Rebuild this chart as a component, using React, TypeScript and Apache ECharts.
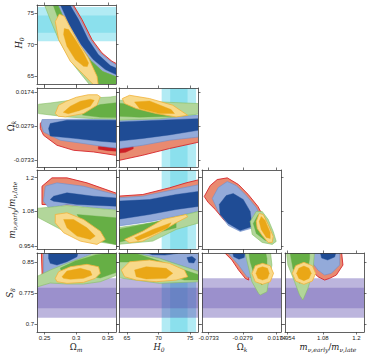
import React, { useEffect, useRef } from "react";
import * as echarts from "echarts";

type Pt = [number, number];
type Layer = "redOuter" | "redInner" | "blueOuter" | "blueInner" | "greenOuter" | "greenInner" | "yellowOuter" | "yellowInner";
type Contour = [Layer, Pt[]];

// ---------- axis parameters ----------
const omRange = [0.238, 0.363];
const h0Range = [63.75, 76.25];
const okRange = [-0.0823, 0.0231];
const mrRange = [0.945, 1.227];
const s8Range = [0.6815, 0.871];

const omTicks = [0.25, 0.3, 0.35];
const omLabels = ["0.25", "0.3", "0.35"];
const h0Ticks = [65, 70, 75];
const h0Labels = ["65", "70", "75"];
const okTicks = [-0.0733, -0.0279, 0.0174];
const okLabels = ["-0.0733", "-0.0279", "0.0174"];
const mrTicks = [0.954, 1.08, 1.2];
const mrLabels = ["0.954", "1.08", "1.2"];
const s8Ticks = [0.7, 0.775, 0.85];
const s8Labels = ["0.7", "0.775", "0.85"];

// external priors: [2σ low, 1σ low, 1σ high, 2σ high]
const h0Band = [70.5, 71.85, 74.6, 75.95];
const s8Band = [0.7158, 0.7383, 0.7877, 0.8102];

// ---------- contours ----------
const cH0Om: Contour[] = [
  ["redOuter", [[0.2934, 76.63], [0.3092, 73.94], [0.325, 70.78], [0.3408, 68.67], [0.3566, 67.34], [0.3666, 66.82], [0.3666, 64.75], [0.342, 65.71], [0.323, 67.45], [0.304, 69.98], [0.285, 73.15], [0.269, 76.63]]],
  ["blueOuter", [[0.291, 76.63], [0.3068, 73.94], [0.3226, 70.78], [0.3384, 68.67], [0.3542, 67.34], [0.3666, 66.6], [0.3666, 64.75], [0.342, 65.71], [0.323, 67.45], [0.304, 69.98], [0.285, 73.15], [0.269, 76.63]]],
  ["blueInner", [[0.288, 76.63], [0.3038, 73.94], [0.3191, 70.78], [0.335, 68.4], [0.354, 66.66], [0.3666, 66.11], [0.3666, 65.08], [0.346, 66.03], [0.327, 67.61], [0.308, 69.98], [0.289, 73.15], [0.2735, 76.63]]],
  ["greenOuter", [[0.2484, 76.63], [0.259, 73.94], [0.2722, 70.78], [0.2934, 67.09], [0.3223, 63.5], [0.3666, 63.5], [0.3666, 64.75], [0.342, 65.71], [0.323, 67.45], [0.304, 69.98], [0.285, 73.15], [0.269, 76.63]]],
  ["greenInner", [[0.2622, 76.63], [0.2748, 73.15], [0.2938, 69.19], [0.316, 66.03], [0.335, 63.5], [0.3666, 63.5], [0.3666, 64.75], [0.342, 65.71], [0.323, 67.45], [0.304, 69.98], [0.285, 73.15], [0.269, 76.63]]],
  ["yellowOuter", [[0.2733, 74.81], [0.2815, 74.46], [0.291, 72.63], [0.304, 70.25], [0.3195, 67.88], [0.333, 64.97], [0.335, 63.5], [0.3286, 63.5], [0.3117, 65.24], [0.2907, 67.34], [0.2722, 70.78], [0.2669, 73.62]]],
  ["yellowInner", [[0.2812, 72.52], [0.288, 72.36], [0.2986, 70.78], [0.3117, 68.67], [0.3196, 67.09], [0.3176, 66.5], [0.3117, 66.55], [0.2986, 67.61], [0.2854, 69.72], [0.2801, 71.57]]],
];

const cOkOm: Contour[] = [
  ["redOuter", [[0.2432, -0.024], [0.2484, -0.02], [0.37, -0.02], [0.37, -0.0666], [0.3619, -0.0666], [0.3275, -0.0622], [0.2959, -0.06], [0.2696, -0.0533], [0.2484, -0.04], [0.2432, -0.031]]],
  ["redInner", [[0.335, -0.055], [0.37, -0.055], [0.37, -0.0615], [0.35, -0.0605], [0.335, -0.0585]]],
  ["blueOuter", [[0.2445, -0.025], [0.2459, -0.019], [0.37, -0.0177], [0.37, -0.0577], [0.3487, -0.0556], [0.3117, -0.051], [0.2748, -0.0466], [0.2484, -0.0356]]],
  ["blueInner", [[0.2563, -0.031], [0.259, -0.0243], [0.2854, -0.0199], [0.37, -0.0199], [0.37, -0.05], [0.3381, -0.048], [0.2959, -0.044], [0.259, -0.041]]],
  ["greenOuter", [[0.2405, 0.0014], [0.259, 0.0031], [0.3117, 0.009], [0.354, 0.0111], [0.37, 0.013], [0.37, -0.0185], [0.3275, -0.0177], [0.2854, -0.0155], [0.2405, -0.011]]],
  ["greenInner", [[0.3117, -0.0066], [0.3381, 0.001], [0.37, 0.004], [0.37, -0.0165], [0.3381, -0.016], [0.31, -0.013]]],
  ["yellowOuter", [[0.2669, -0.011], [0.2722, 0.0001], [0.2843, 0.0054], [0.3002, 0.0107], [0.3191, 0.0141], [0.3334, 0.0141], [0.3381, 0.0114], [0.3329, 0.0001], [0.3117, -0.011], [0.2828, -0.0155], [0.2717, -0.0146]]],
  ["yellowInner", [[0.2796, -0.0093], [0.2907, -0.0013], [0.3065, 0.0054], [0.3223, 0.0081], [0.3286, 0.0067], [0.3223, -0.0013], [0.3065, -0.0066], [0.2875, -0.0113]]],
];

const cOkH0: Contour[] = [
  ["redOuter", [[63.5, -0.02], [76.5, -0.02], [76.5, -0.0489], [71.73, -0.0577], [67.52, -0.0666], [63.85, -0.0733], [63.5, -0.074]]],
  ["redInner", [[63.5, -0.052], [66, -0.052], [66, -0.058], [64.8, -0.0626], [63.5, -0.064]]],
  ["blueOuter", [[63.5, -0.019], [76.5, -0.0133], [76.5, -0.0422], [71.73, -0.0466], [67.52, -0.0533], [63.85, -0.0577], [63.5, -0.058]]],
  ["blueInner", [[63.5, -0.0222], [70.16, -0.0199], [76.5, -0.0177], [76.5, -0.033], [71.73, -0.0395], [67.52, -0.0442], [63.5, -0.048]]],
  ["greenOuter", [[63.5, 0.007], [70.16, 0.0045], [76.5, 0.0023], [76.5, -0.0115], [70.16, -0.018], [63.5, -0.0199]]],
  ["greenInner", [[63.5, 0.003], [68.58, -0.0013], [73.31, -0.0066], [72.52, -0.0146], [67.0, -0.0159], [63.5, -0.0146]]],
  ["yellowOuter", [[64.27, 0.009], [65.43, 0.0134], [68.58, 0.009], [72.26, 0.0001], [74.62, -0.0133], [72.79, -0.0155], [69.64, -0.011], [66.48, -0.0043], [64.64, 0.0023]]],
  ["yellowInner", [[66.21, 0.0045], [68.58, 0.0058], [72.0, -0.0057], [72.52, -0.011], [70.16, -0.011], [67.0, -0.0043]]],
];

const cMrOm: Contour[] = [
  ["redOuter", [[0.2459, 1.1038], [0.2459, 1.169], [0.2617, 1.1989], [0.2854, 1.1989], [0.3171, 1.1811], [0.3619, 1.1455], [0.37, 1.143], [0.37, 1.1]]],
  ["blueOuter", [[0.2484, 1.1156], [0.2511, 1.169], [0.2696, 1.1811], [0.3117, 1.169], [0.3619, 1.1395], [0.37, 1.137], [0.37, 1.086], [0.3619, 1.086], [0.3275, 1.0921], [0.2854, 1.1038], [0.2563, 1.0921]]],
  ["blueInner", [[0.259, 1.1217], [0.2642, 1.1334], [0.2854, 1.1455], [0.3275, 1.1334], [0.37, 1.126], [0.37, 1.0978], [0.3619, 1.0978], [0.3013, 1.1038], [0.2642, 1.1156]]],
  ["greenOuter", [[0.238, 1.09], [0.2854, 1.1], [0.3619, 1.084], [0.37, 1.082], [0.37, 0.955], [0.3619, 0.9614], [0.3275, 0.9732], [0.2854, 1.0031], [0.2405, 1.0565], [0.238, 1.06]]],
  ["greenInner", [[0.3013, 1.0682], [0.3619, 1.0565], [0.37, 1.055], [0.37, 0.96], [0.3619, 0.9614], [0.3275, 0.9792]]],
  ["yellowOuter", [[0.2669, 1.0682], [0.2854, 1.0743], [0.3117, 1.0504], [0.3381, 1.0088], [0.346, 0.9792], [0.3329, 0.9614], [0.3065, 0.9732], [0.2801, 1.0031], [0.2669, 1.0387]]],
  ["yellowInner", [[0.2801, 1.0504], [0.2959, 1.0504], [0.3171, 1.0209], [0.3302, 0.991], [0.3223, 0.9792], [0.3013, 0.991], [0.2854, 1.0209]]],
];

const cMrH0: Contour[] = [
  ["redOuter", [[63.5, 1.1334], [67.52, 1.1395], [71.73, 1.1633], [74.37, 1.1811], [76.5, 1.1929], [76.5, 1.1], [63.5, 1.08]]],
  ["blueOuter", [[63.5, 1.1277], [67.52, 1.1334], [71.73, 1.1537], [76.5, 1.1751], [76.5, 1.08], [69.1, 1.0444], [63.5, 1.0266]]],
  ["blueInner", [[63.5, 1.1156], [68.58, 1.1217], [72.79, 1.1395], [76.5, 1.1512], [76.5, 1.0978], [72.79, 1.086], [68.58, 1.0682], [63.5, 1.0504]]],
  ["greenOuter", [[63.5, 1.0209], [69.1, 1.0387], [76.5, 1.08], [76.5, 1.0387], [72.79, 1.0148], [69.1, 0.9732], [63.5, 0.9614]]],
  ["greenInner", [[63.5, 1.0148], [72.79, 1.0565], [72.79, 1.0209], [63.5, 0.9675]]],
  ["yellowOuter", [[64.64, 0.9792], [67.52, 1.0088], [70.68, 1.0504], [74.37, 1.0682], [74.6, 1.06], [72.79, 1.0387], [70.16, 1.0031], [67.52, 0.9732], [65.43, 0.9675]]],
  ["yellowInner", [[66.21, 0.9853], [69.1, 1.0148], [72.0, 1.0387], [71.47, 1.0209], [68.58, 0.991], [66.74, 0.9757]]],
];

const cMrOk: Contour[] = [
  ["redOuter", [[-0.0793, 1.1324], [-0.0713, 1.1715], [-0.062, 1.1929], [-0.0486, 1.1989], [-0.0336, 1.1751], [-0.0206, 1.1395], [-0.0076, 1.0967], [-0.002, 1.0682], [-0.0113, 1.0326], [-0.0313, 1.0219], [-0.0513, 1.0433], [-0.0646, 1.086], [-0.074, 1.111]]],
  ["blueOuter", [[-0.0686, 1.1253], [-0.0606, 1.1644], [-0.0486, 1.1858], [-0.0366, 1.1715], [-0.0233, 1.1359], [-0.0099, 1.0932], [-0.0046, 1.0647], [-0.0126, 1.0219], [-0.0313, 1.0077], [-0.0473, 1.0291], [-0.0606, 1.0789]]],
  ["blueInner", [[-0.0593, 1.1038], [-0.05, 1.1359], [-0.0406, 1.143], [-0.0273, 1.1217], [-0.018, 1.0789], [-0.0153, 1.0255], [-0.0313, 1.0112], [-0.0473, 1.0362], [-0.058, 1.0682]]],
  ["greenOuter", [[-0.018, 1.0433], [-0.0099, 1.0789], [-0.002, 1.0789], [0.006, 1.0504], [0.0127, 1.0077], [0.0167, 0.9721], [0.0114, 0.9614], [-0.002, 0.9685], [-0.0153, 0.997]]],
  ["greenInner", [[-0.0139, 1.0362], [-0.0073, 1.0682], [0.0007, 1.0611], [0.0087, 1.0148], [0.0114, 0.9792], [0.002, 0.9757], [-0.0099, 1.0006]]],
  ["yellowOuter", [[-0.0099, 1.0433], [-0.006, 1.0718], [-0.0006, 1.0682], [0.006, 1.0326], [0.0127, 0.9899], [0.0114, 0.9685], [0.006, 0.9685], [-0.002, 0.9934], [-0.0086, 1.0184]]],
  ["yellowInner", [[-0.006, 1.0433], [-0.0033, 1.0611], [0.002, 1.0469], [0.0087, 1.0041], [0.0087, 0.9828], [0.0034, 0.9863], [-0.0033, 1.0148]]],
];

const cS8Om: Contour[] = [
  ["redOuter", [[0.2448, 0.878], [0.2748, 0.878], [0.2559, 0.8109], [0.2464, 0.8061]]],
  ["blueOuter", [[0.2484, 0.878], [0.3381, 0.878], [0.2484, 0.8181]]],
  ["blueInner", [[0.2563, 0.878], [0.3038, 0.878], [0.3013, 0.862], [0.2854, 0.85], [0.2696, 0.8421], [0.259, 0.8462], [0.2563, 0.8581]]],
  ["greenOuter", [[0.2369, 0.8141], [0.259, 0.8301], [0.2854, 0.8462], [0.3223, 0.8661], [0.3619, 0.878], [0.365, 0.878], [0.365, 0.8181], [0.3381, 0.8021], [0.3117, 0.7966], [0.2854, 0.7966], [0.259, 0.799], [0.2369, 0.789]]],
  ["greenInner", [[0.2748, 0.8349], [0.2986, 0.8517], [0.3302, 0.8661], [0.365, 0.874], [0.365, 0.8253], [0.3381, 0.8109], [0.3065, 0.8181], [0.278, 0.8205]]],
  ["yellowOuter", [[0.2669, 0.8102], [0.2722, 0.826], [0.2907, 0.838], [0.3171, 0.8438], [0.3354, 0.838], [0.3381, 0.8222], [0.3302, 0.8102], [0.3117, 0.8006], [0.2854, 0.7982], [0.2696, 0.8021]]],
  ["yellowInner", [[0.2775, 0.8141], [0.2854, 0.8277], [0.3065, 0.8342], [0.3223, 0.8277], [0.325, 0.8181], [0.3117, 0.8102], [0.2907, 0.8078], [0.2801, 0.8102]]],
];

const cS8H0: Contour[] = [
  ["redOuter", [[75.5, 0.842], [76.5, 0.845], [76.5, 0.82], [75.7, 0.825]]],
  ["blueOuter", [[63.5, 0.878], [76.5, 0.878], [76.5, 0.826], [70.16, 0.8581], [66.48, 0.8701], [63.5, 0.874]]],
  ["blueInner", [[67.9, 0.878], [73.5, 0.878], [73.0, 0.87], [71.0, 0.866], [69.0, 0.867], [68.0, 0.872]]],
  ["blueInner", [[74.5, 0.86], [75.3, 0.8625], [75.9, 0.856], [75.6, 0.847], [74.8, 0.848]]],
  ["greenOuter", [[63.5, 0.874], [66.48, 0.8701], [70.16, 0.8581], [76.5, 0.826], [76.5, 0.8021], [70.16, 0.7982], [64.37, 0.8102], [63.5, 0.8141]]],
  ["greenInner", [[63.5, 0.8732], [66.21, 0.8708], [70.16, 0.8517], [74.1, 0.8301], [76.5, 0.8181], [76.5, 0.8061], [74.1, 0.8061], [70.16, 0.8253], [66.21, 0.8493], [63.5, 0.8493]]],
  ["yellowOuter", [[64.12, 0.8301], [65.43, 0.85], [68.58, 0.8541], [71.73, 0.8462], [74.1, 0.8301], [74.62, 0.8141], [72.79, 0.8061], [69.64, 0.8021], [66.48, 0.8061], [64.64, 0.8141]]],
  ["yellowInner", [[66.21, 0.8301], [68.06, 0.838], [71.21, 0.8342], [72.26, 0.8222], [71.21, 0.8102], [68.06, 0.8085], [66.48, 0.8141]]],
];

const cS8Ok: Contour[] = [
  ["redOuter", [[-0.0553, 0.878], [-0.02, 0.878], [-0.02, 0.8061], [-0.0246, 0.8102], [-0.0335, 0.8301], [-0.0424, 0.8541], [-0.0513, 0.8701]]],
  ["blueOuter", [[-0.05, 0.878], [-0.015, 0.878], [-0.015, 0.81], [-0.0223, 0.8141], [-0.0335, 0.8421], [-0.0469, 0.8701]]],
  ["blueInner", [[-0.0424, 0.878], [-0.0246, 0.878], [-0.026, 0.86], [-0.033, 0.856], [-0.04, 0.862]]],
  ["greenOuter", [[-0.0246, 0.878], [0.0087, 0.878], [0.011, 0.8421], [0.0065, 0.8021], [0.0043, 0.7781], [-0.0046, 0.7702], [-0.0069, 0.7743], [-0.0157, 0.8021], [-0.0246, 0.8701]]],
  ["greenInner", [[-0.0202, 0.878], [0.002, 0.878], [0.0043, 0.8581], [0.0043, 0.8102], [-0.0023, 0.7942], [-0.0113, 0.8102], [-0.018, 0.85]]],
  ["yellowOuter", [[-0.0157, 0.8222], [-0.0113, 0.8405], [-0.0015, 0.8462], [0.0087, 0.8405], [0.0131, 0.8222], [0.0087, 0.8021], [-0.0015, 0.7958], [-0.0113, 0.8021]]],
  ["yellowInner", [[-0.0103, 0.8222], [-0.0077, 0.8342], [-0.0015, 0.838], [0.0051, 0.8342], [0.0074, 0.8222], [0.0051, 0.8102], [-0.0015, 0.8061], [-0.0077, 0.8102]]],
];

const cS8Mr: Contour[] = [
  ["redOuter", [[1.02, 0.878], [1.1461, 0.878], [1.1518, 0.8421], [1.1282, 0.8181], [1.1043, 0.8102], [1.0864, 0.8061], [1.0625, 0.8141], [1.04, 0.83]]],
  ["blueOuter", [[1.0268, 0.878], [1.14, 0.878], [1.14, 0.8421], [1.1104, 0.8222], [1.0864, 0.8181], [1.0625, 0.8301], [1.04, 0.85]]],
  ["blueInner", [[1.0686, 0.878], [1.1293, 0.878], [1.1221, 0.8613], [1.0971, 0.8541], [1.0757, 0.8589]]],
  ["greenOuter", [[0.9496, 0.878], [1.0507, 0.878], [1.0446, 0.826], [1.0268, 0.7863], [1.0089, 0.7582], [0.9971, 0.7702], [0.9793, 0.8021], [0.9554, 0.8421]]],
  ["greenInner", [[0.9614, 0.878], [1.0329, 0.878], [1.0329, 0.8581], [1.0211, 0.8102], [0.9971, 0.7982], [0.9732, 0.8342]]],
  ["yellowOuter", [[0.9711, 0.8222], [0.9829, 0.8405], [1.0125, 0.8486], [1.0425, 0.8405], [1.0543, 0.8222], [1.0425, 0.8037], [1.0125, 0.7958], [0.9829, 0.8037]]],
  ["yellowInner", [[0.9864, 0.8222], [0.9943, 0.8344], [1.0125, 0.8397], [1.0307, 0.8344], [1.0386, 0.8222], [1.0307, 0.81], [1.0125, 0.8047], [0.9943, 0.81]]],
];

// ---------- styles ----------
const LAYER_STYLE: Record<Layer, { fill: string; stroke: string; lw: number }> = {
  redOuter: { fill: "#E98A70", stroke: "#D7262B", lw: 0.9 },
  redInner: { fill: "#CC1F26", stroke: "#CC1F26", lw: 0.4 },
  blueOuter: { fill: "#93AAD9", stroke: "#6F8FCB", lw: 0.6 },
  blueInner: { fill: "#1F4C95", stroke: "#1F4C95", lw: 0.4 },
  greenOuter: { fill: "#B2D69A", stroke: "#86C064", lw: 0.6 },
  greenInner: { fill: "#66AF45", stroke: "#66AF45", lw: 0.4 },
  yellowOuter: { fill: "#F8D98A", stroke: "#F2B33A", lw: 0.8 },
  yellowInner: { fill: "#EAA716", stroke: "#EAA716", lw: 0.4 },
};

const CYAN_OUT = "rgba(0,190,220,0.30)";
const CYAN_IN = "rgba(0,185,215,0.22)";
const PURP_OUT = "rgba(80,60,165,0.38)";
const PURP_IN = "rgba(80,60,165,0.30)";

const COL_LEFT = [37, 119, 202, 285];
const ROW_TOP = [5, 88, 170, 253];
const SIZE = 79;

type AxisKey = "om" | "h0" | "ok" | "mr" | "s8";
const AX: Record<AxisKey, { range: number[]; ticks: number[]; labels: string[] }> = {
  om: { range: omRange, ticks: omTicks, labels: omLabels },
  h0: { range: h0Range, ticks: h0Ticks, labels: h0Labels },
  ok: { range: okRange, ticks: okTicks, labels: okLabels },
  mr: { range: mrRange, ticks: mrTicks, labels: mrLabels },
  s8: { range: s8Range, ticks: s8Ticks, labels: s8Labels },
};

const COL_KEYS: AxisKey[] = ["om", "h0", "ok", "mr"];
const ROW_KEYS: AxisKey[] = ["h0", "ok", "mr", "s8"];
const PANEL_CONTOURS: Contour[][][] = [
  [cH0Om],
  [cOkOm, cOkH0],
  [cMrOm, cMrH0, cMrOk],
  [cS8Om, cS8H0, cS8Ok, cS8Mr],
];

function labelFor(key: AxisKey, v: number) {
  const a = AX[key];
  let best = 0;
  for (let i = 1; i < a.ticks.length; i++) if (Math.abs(a.ticks[i] - v) < Math.abs(a.ticks[best] - v)) best = i;
  return a.labels[best];
}

function buildOption() {
  const grid: any[] = [];
  const xAxis: any[] = [];
  const yAxis: any[] = [];
  const series: any[] = [];
  const lineStyle = { color: "#3a3a3a", width: 0.8 };
  const base = (key: AxisKey) => ({
    type: "value",
    min: AX[key].range[0],
    max: AX[key].range[1],
    splitLine: { show: false },
    axisLine: { show: true, onZero: false, lineStyle },
    axisTick: { show: true, length: 2.5, customValues: AX[key].ticks, lineStyle: { color: "#3a3a3a", width: 0.7 } },
    z: 10,
  });
  const lbl = (key: AxisKey, show: boolean) => ({
    show,
    customValues: AX[key].ticks,
    formatter: (v: number) => labelFor(key, v),
    fontSize: 6,
    fontFamily: "Liberation Sans",
    color: "#222",
    margin: 3,
  });
  let g = 0;
  for (let r = 0; r < 4; r++) {
    for (let c = 0; c <= r; c++) {
      const xk = COL_KEYS[c];
      const yk = ROW_KEYS[r];
      grid.push({ left: COL_LEFT[c], top: ROW_TOP[r], width: SIZE, height: SIZE });
      xAxis.push({ ...base(xk), gridIndex: g, position: "bottom", axisLabel: lbl(xk, r === 3) });
      xAxis.push({ ...base(xk), gridIndex: g, position: "top", axisLabel: { show: false } });
      yAxis.push({ ...base(yk), gridIndex: g, position: "left", axisLabel: lbl(yk, c === 0) });
      yAxis.push({ ...base(yk), gridIndex: g, position: "right", axisLabel: { show: false } });

      const xr = AX[xk].range;
      const yr = AX[yk].range;
      const bands: [string, number, number, string][] = [];
      if (r === 0) {
        bands.push(["y", h0Band[0], h0Band[3], CYAN_OUT]);
        bands.push(["y", h0Band[1], h0Band[2], CYAN_IN]);
      }
      if (c === 1) {
        bands.push(["x", h0Band[0], h0Band[3], CYAN_OUT]);
        bands.push(["x", h0Band[1], h0Band[2], CYAN_IN]);
      }
      if (r === 3) {
        bands.push(["y", s8Band[0], s8Band[3], PURP_OUT]);
        bands.push(["y", s8Band[1], s8Band[2], PURP_IN]);
      }
      if (bands.length) {
        series.push({
          type: "custom",
          xAxisIndex: 2 * g,
          yAxisIndex: 2 * g,
          clip: true,
          silent: true,
          z: 1,
          data: bands.map(() => [xr[0], yr[0]]),
          renderItem: (params: any, api: any) => {
            const [ax, lo, hi, col] = bands[params.dataIndex];
            const pts =
              ax === "y"
                ? [[xr[0], lo], [xr[1], lo], [xr[1], hi], [xr[0], hi]]
                : [[lo, yr[0]], [hi, yr[0]], [hi, yr[1]], [lo, yr[1]]];
            return { type: "polygon", shape: { points: pts.map((p) => api.coord(p)) }, style: { fill: col } };
          },
        });
      }
      const polys = PANEL_CONTOURS[r][c];
      series.push({
        type: "custom",
        xAxisIndex: 2 * g,
        yAxisIndex: 2 * g,
        clip: true,
        silent: true,
        z: 2,
        data: polys.map((p) => p[1][0]),
        renderItem: (params: any, api: any) => {
          const [layer, pts] = polys[params.dataIndex];
          const st = LAYER_STYLE[layer];
          return {
            type: "polygon",
            shape: { points: pts.map((p) => api.coord(p)) },
            style: { fill: st.fill, stroke: st.stroke, lineWidth: st.lw, lineJoin: "round" },
          };
        },
      });
      g++;
    }
  }

  const rich = {
    i: { fontFamily: "DejaVu Serif", fontStyle: "italic", fontSize: 8.5, lineHeight: 10, verticalAlign: "top", fill: "#222" },
    r: { fontFamily: "DejaVu Serif", fontSize: 8.5, lineHeight: 10, verticalAlign: "top", fill: "#222" },
    s: { fontFamily: "DejaVu Serif", fontStyle: "italic", fontSize: 6, lineHeight: 8, padding: [4, 0, 0, 0], verticalAlign: "bottom", fill: "#222" },
  };
  const title = (text: string, x: number, y: number, rot: boolean) => ({
    type: "text",
    x,
    y,
    rotation: rot ? Math.PI / 2 : 0,
    style: { text, rich, align: "center", verticalAlign: "middle" },
  });
  const graphic = [
    title("{i|H}{s|0}", 19, 43, true),
    title("{r|Ω}{s|k}", 11, 126, true),
    title("{i|m}{s|ν,early}{r|/}{i|m}{s|ν,late}", 12, 210, true),
    title("{i|S}{s|8}", 10.5, 293, true),
    title("{r|Ω}{s|m}", 76, 347, false),
    title("{i|H}{s|0}", 159, 347, false),
    title("{r|Ω}{s|k}", 242, 347, false),
    title("{i|m}{s|ν,early}{r|/}{i|m}{s|ν,late}", 328, 347.5, false),
  ];

  return { animation: false, backgroundColor: "#ffffff", grid, xAxis, yAxis, series, graphic };
}

export default function App() {
  const ref = useRef<HTMLDivElement>(null);
  useEffect(() => {
    if (!ref.current) return;
    const chart = echarts.init(ref.current, undefined, { renderer: "svg" });
    chart.setOption(buildOption() as any);
    return () => chart.dispose();
  }, []);
  return <div ref={ref} style={{ position: "fixed", left: 0, top: 0, width: 371, height: 355 }} />;
}
